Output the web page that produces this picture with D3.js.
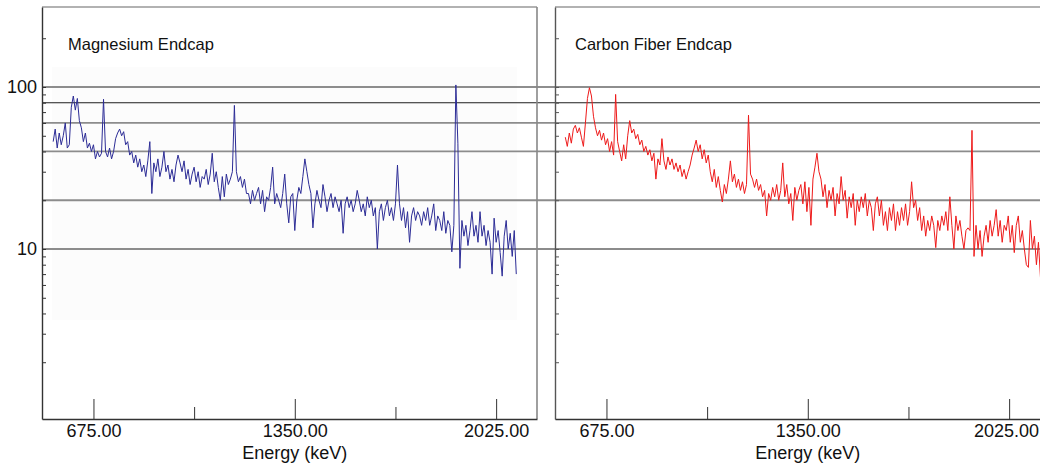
<!DOCTYPE html>
<html><head><meta charset="utf-8">
<script src="https://cdn.jsdelivr.net/npm/d3@7"></script>
<style>
body{margin:0;background:#fff}
svg{display:block;font-family:"Liberation Sans",Arial,Helvetica,sans-serif}
</style>
</head><body>
<svg id="chart" width="1040" height="468"></svg>
<script>
// ---------- data ----------
const panelTitles = ["Magnesium Endcap", "Carbon Fiber Endcap"];
const channelWidth = 6.75;            // keV per plotted channel
const startEnergies = [540, 537];     // keV of first channel in each spectrum
const magnesiumCounts = [
  46,55,42,52,44, 50,60,42,44,75, 88,72,85,62,56, 46,52,42,45,40,
  44,36,40,37,39, 84,40,37,42,36, 40,48,52,55,50, 53,44,46,38,40,
  34,38,32,36,30, 33,28,35,46,22, 34,30,36,28,32, 40,30,33,27,31,
  26,33,38,34,30, 35,27,31,25,29, 32,26,30,24,28, 27,31,25,29,39,
  26,30,24,20,28, 21,29,25,27,30, 77,30, 26,28,24,27,22,
  22,19,23,20,22, 24,19,23,17,21, 20,24,32,19,22, 20,18,22,29,19,
  14.5,21,22,13,20, 24,22,28,36,30, 25,22,13.5,19,23, 20,18,25,21,17,
  20,22,18,21,19, 17,20,12.5,19,21, 18,20,17,19,23, 20,17,19,16,21,
  18,20,16,18,10, 17,19,15,18,20, 16,18,15,19,33, 19,15,18,13.5,17,
  11,16,18,15,17, 16,14,17,15,18, 14,16,19,13,16, 15,13,17,12.5,15,
  14,9.6,14,103,45,7.6,
  15,12,14,10.5,13, 17,12,14,11,17, 12,14,10.5,13,11, 7,15.5,11,13,9.5,
  6.8,12,15,10,12.5, 9,13,7
];
const carbonFiberCounts = [
  49,43,52,45,55, 58,52,56,49,43, 60,85,99,88,66, 56,50,54,47,52,
  44,48,40,46,38, 90, 46,40,35,44,36, 50,62,52,55,48, 51,44,47,40,43,
  38,41,35,39,27, 36,33,48,35,31, 37,33,36,31,34, 30,33,28,31,27,
  30,33,38,42,47, 40,44,36,41,34, 38,30,26,31,24, 28,23,19.5,25,22,
  27,35,26,29,24, 27,23,26,22,25, 67, 29,27,24,27,23, 25,21,23,16,22,
  20,24,21,25,20, 23,34,21,25,19, 22,15,24,20,23, 25,19,26,17,24,
  14,27,32,39,30, 27,21,25,18,23, 20,24,16,22,19, 28,20,23,15.5,21,
  18,22,14,20,17, 21,18,22,16,20, 18,13,19,21,16, 20,14,17,13,18,
  15,19,13,17,14, 18,15,19,14,17, 26,18,20,15,18, 13,16,12,15,13,
  16,14,10.2,15,13, 16,14,17,13,21, 14,10,16,13,15, 12,10,13,13.5,13,
  54, 9, 14,10,13,9,12, 14,11,15,12,14, 17.5,12,15,11,14, 13,16,11,14,9.5,
  14,16,11,13,10, 8,7.7,15,10,12,8,11,6.7,9
];
const seriesColors = ["#2c2c96", "#ee1a1a"];
const xTickValues = [675, 1350, 2025];
const xMinorTickValues = [1012.5, 1687.5];
const yLabelValues = [10, 100];
const yMinorTickValues = [2,3,4,5,6,7,8,9,20,30,40,50,60,70,80,90,200];
const gridValues = [100, 80, 60, 40, 20, 10];
const darkGridValues = [100, 80];
const xAxisTitle = "Energy (keV)";
const energyDomain = [502.5, 2162];
const countDomain = [0.8925, 311.8];

// ---------- layout ----------
const W = 1040, H = 468;
const plotTop = 7, plotBottom = 419;
const panels = [
  {x0: 42, x1: 537, counts: magnesiumCounts, start: startEnergies[0], color: seriesColors[0], title: panelTitles[0], titleDx: 26, rightBorder: true, yLabels: true, axisColor: "#333"},
  {x0: 555, x1: 1050, counts: carbonFiberCounts, start: startEnergies[1], color: seriesColors[1], title: panelTitles[1], titleDx: 20, rightBorder: false, yLabels: false, axisColor: "#555"}
];

const svg = d3.select("#chart");
svg.append("rect").attr("width", W).attr("height", H).attr("fill", "#fff");

const y = d3.scaleLog().domain(countDomain).range([plotBottom, plotTop]);

// very faint scanned-background area in left panel
svg.append("rect").attr("x", 52).attr("y", 67).attr("width", 465).attr("height", 253).attr("fill", "#fcfcfc");

// horizontal reference lines spanning the whole figure
svg.append("g").selectAll("line").data(gridValues).join("line")
  .attr("x1", 42).attr("x2", W)
  .attr("y1", d => y(d)).attr("y2", d => y(d))
  .attr("stroke", d => darkGridValues.includes(d) ? "#1e1e1e" : "#8c8c8c")
  .attr("stroke-width", d => darkGridValues.includes(d) ? 1.1 : 1.8);

panels.forEach(p => {
  const x = d3.scaleLinear().domain(energyDomain).range([p.x0, p.x1]);
  const g = svg.append("g");

  // frame: top and (optional) right border
  g.append("line").attr("x1", p.x0).attr("x2", p.x1).attr("y1", plotTop).attr("y2", plotTop)
    .attr("stroke", "#999").attr("stroke-width", 1.5);
  if (p.rightBorder) {
    g.append("line").attr("x1", p.x1).attr("x2", p.x1).attr("y1", plotTop).attr("y2", plotBottom)
      .attr("stroke", "#888").attr("stroke-width", 1.6);
  }

  // spectrum
  const pts = p.counts.map((c, i) => ({e: p.start + i * channelWidth, c}));
  g.append("path").datum(pts)
    .attr("fill", "none").attr("stroke", p.color).attr("stroke-width", 1)
    .attr("stroke-linejoin", "miter")
    .attr("d", d3.line().x(d => x(d.e)).y(d => y(d.c)));

  // y axis (ticks inward)
  const ya = g.append("g").attr("transform", `translate(${p.x0},0)`)
    .call(d3.axisRight(y).tickValues(yMinorTickValues.concat(yLabelValues)).tickSize(4).tickSizeOuter(0).tickFormat(""));
  ya.attr("color", p.axisColor);
  ya.select(".domain").attr("stroke-width", 1.4);

  if (p.yLabels) {
    const yl = g.append("g").attr("transform", `translate(${p.x0},0)`)
      .call(d3.axisLeft(y).tickValues(yLabelValues).tickSize(0).tickPadding(5).tickFormat(d3.format("d")));
    yl.select(".domain").remove();
    yl.selectAll("text").attr("font-size", 18).attr("font-family", "Liberation Sans, Arial, sans-serif").attr("fill", "#111");
  }

  // x axis (ticks upward)
  const xa = g.append("g").attr("transform", `translate(0,${plotBottom})`)
    .call(d3.axisTop(x).tickValues(xTickValues).tickSize(20).tickSizeOuter(0).tickFormat(""));
  xa.attr("color", "#333");
  xa.select(".domain").attr("stroke-width", 1.4);
  const xm = g.append("g").attr("transform", `translate(0,${plotBottom})`)
    .call(d3.axisTop(x).tickValues(xMinorTickValues).tickSize(12).tickSizeOuter(0).tickFormat(""));
  xm.attr("color", "#333");
  xm.select(".domain").remove();
  const xl = g.append("g").attr("transform", `translate(0,${plotBottom})`)
    .call(d3.axisBottom(x).tickValues(xTickValues).tickSize(0).tickPadding(5).tickFormat(d3.format(".2f")));
  xl.select(".domain").remove();
  xl.selectAll("text").attr("font-size", 18).attr("font-family", "Liberation Sans, Arial, sans-serif").attr("fill", "#111")
    .each(function() {
      // keep labels inside the picture
      const b = this.getBBox();
      const tr = this.parentNode.getAttribute("transform");
      const tx = +tr.match(/translate\(([-\d.]+)/)[1];
      const over = tx + b.x + b.width - (W - 1);
      if (over > 0) d3.select(this).attr("x", -over);
    });

  // axis title
  g.append("text").attr("x", x(1350)).attr("y", 459).attr("text-anchor", "middle")
    .attr("font-size", 18).attr("fill", "#111").text(xAxisTitle);

  // panel title
  g.append("text").attr("x", p.x0 + p.titleDx).attr("y", 50)
    .attr("font-size", 16.5).attr("fill", "#111").text(p.title);
});
</script>
</body></html>
